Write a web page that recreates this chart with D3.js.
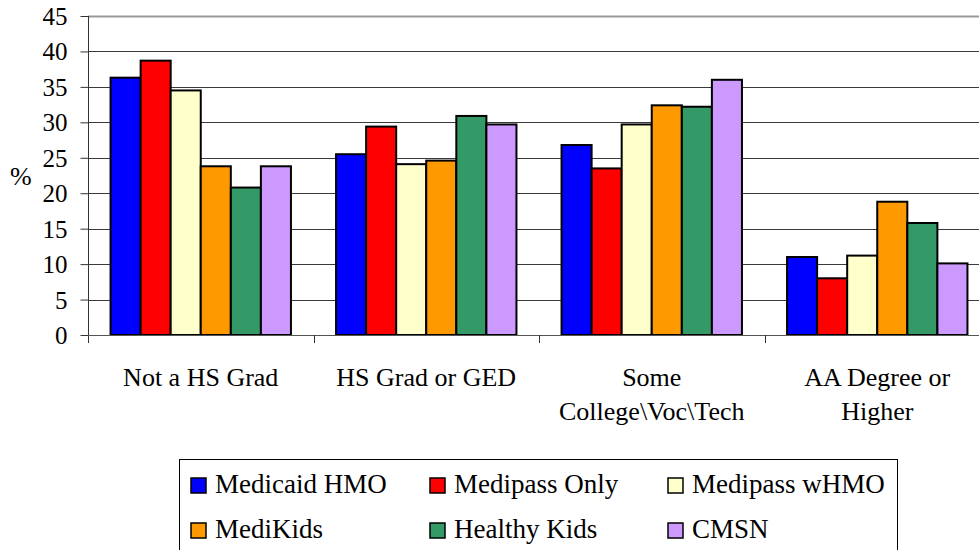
<!DOCTYPE html>
<html>
<head>
<meta charset="utf-8">
<script src="https://cdn.jsdelivr.net/npm/d3@7"></script>
<style>
  body { margin: 0; background: #fff; }
  svg text { font-family: "Times New Roman", "Liberation Serif", Tinos, Times, serif !important; fill: #000; }
</style>
</head>
<body>
<svg id="chart"></svg>
<script>
var categories = ["Not a HS Grad", "HS Grad or GED", "Some College\\Voc\\Tech", "AA Degree or Higher"]
var categoryLines = [["Not a HS Grad"], ["HS Grad or GED"], ["Some", "College\\Voc\\Tech"], ["AA Degree or", "Higher"]]
var seriesNames = ["Medicaid HMO", "Medipass Only", "Medipass wHMO", "MediKids", "Healthy Kids", "CMSN"]
var seriesColors = ["#0000ff", "#ff0000", "#ffffcc", "#ff9900", "#339966", "#cc99ff"]

var medicaidHMO = [36.3, 25.5, 26.8, 11.0]
var medipassOnly = [38.7, 29.4, 23.5, 8.0]
var medipassWHMO = [34.5, 24.1, 29.7, 11.2]
var mediKids = [23.8, 24.6, 32.4, 18.8]
var healthyKids = [20.8, 30.9, 32.2, 15.8]
var cmsn = [23.8, 29.7, 36.0, 10.1]

var yTicks = [0, 5, 10, 15, 20, 25, 30, 35, 40, 45]

var allSeries = [medicaidHMO, medipassOnly, medipassWHMO, mediKids, healthyKids, cmsn]

var dimensions = {
  width: 979,
  height: 550,
  margin: { top: 16, bottom: 215, left: 88, right: -11 }
}

var svg = d3.select("#chart")
  .attr("width", dimensions.width)
  .attr("height", dimensions.height)

var plotBottom = dimensions.height - dimensions.margin.bottom
var plotRight = dimensions.width - dimensions.margin.right

// scales
var x = d3.scaleBand()
  .domain(categories)
  .range([dimensions.margin.left, plotRight])
  .paddingInner(0.2)
  .paddingOuter(0.1)

var xSub = d3.scaleBand()
  .domain(seriesNames)
  .range([0, x.bandwidth()])

var y = d3.scaleLinear()
  .domain([0, 45])
  .range([plotBottom, dimensions.margin.top])

// gridlines
svg.append("g")
  .selectAll("line")
  .data(yTicks.slice(1))
  .enter().append("line")
    .attr("x1", dimensions.margin.left)
    .attr("x2", plotRight)
    .attr("y1", function(d) { return Math.round(y(d)) + 0.5 })
    .attr("y2", function(d) { return Math.round(y(d)) + 0.5 })
    .attr("stroke", function(d) { return d == 45 ? "#999" : "#3a3a3a" })
    .attr("stroke-width", function(d) { return d == 45 ? 2 : 1 })

// bars
svg.append("g")
  .selectAll("g")
  .data(categories)
  .enter().append("g")
    .attr("transform", function(d) { return "translate(" + x(d) + ",0)" })
  .selectAll("rect")
  .data(function(d, i) { return seriesNames.map(function(name, k) { return { key: name, value: allSeries[k][i], color: seriesColors[k] } }) })
  .enter().append("rect")
    .attr("x", function(d) { return xSub(d.key) })
    .attr("y", function(d) { return y(d.value) })
    .attr("width", xSub.bandwidth())
    .attr("height", function(d) { return plotBottom - y(d.value) })
    .attr("fill", function(d) { return d.color })
    .attr("stroke", "#000")
    .attr("stroke-width", 2)

// y axis
var yAxis = svg.append("g")
  .attr("transform", "translate(" + (dimensions.margin.left + 0.5) + ",0)")
  .call(d3.axisLeft(y).tickValues(yTicks).tickSize(8).tickPadding(13))
yAxis.attr("font-family", null)
yAxis.select(".domain").remove()
yAxis.selectAll("line").attr("stroke", "#333")
yAxis.selectAll("text").style("font-size", "25px").attr("dy", "0.34em")

svg.append("line")
  .attr("x1", dimensions.margin.left + 0.5).attr("x2", dimensions.margin.left + 0.5)
  .attr("y1", dimensions.margin.top).attr("y2", plotBottom + 8)
  .attr("stroke", "#333")

svg.append("line")
  .attr("x1", dimensions.margin.left).attr("x2", plotRight)
  .attr("y1", plotBottom + 0.5).attr("y2", plotBottom + 0.5)
  .attr("stroke", "#555")

// category ticks between groups
var step = x.step()
svg.append("g")
  .selectAll("line")
  .data(categories.slice(1))
  .enter().append("line")
    .attr("x1", function(d) { return Math.round(x(d) - step * 0.1) + 0.5 })
    .attr("x2", function(d) { return Math.round(x(d) - step * 0.1) + 0.5 })
    .attr("y1", plotBottom)
    .attr("y2", plotBottom + 8)
    .attr("stroke", "#333")

// category labels
var catLabels = svg.append("g")
  .selectAll("text")
  .data(categories)
  .enter().append("text")
    .attr("text-anchor", "middle")
    .style("font-size", "26px")
    .attr("x", function(d) { return x(d) + x.bandwidth() / 2 })
    .attr("y", 386)
catLabels.selectAll("tspan")
  .data(function(d, i) { return categoryLines[i] })
  .enter().append("tspan")
    .attr("x", function() { var p = d3.select(this.parentNode); return p.attr("x") })
    .attr("dy", function(d, i) { return i == 0 ? 0 : 34 })
    .text(function(d) { return d })

// y label
svg.append("text")
  .text("%")
  .attr("x", 10)
  .attr("y", 185)
  .style("font-size", "26px")

// legend
var legend = svg.append("g")
legend.append("rect")
  .attr("x", 179.5).attr("y", 459.5)
  .attr("width", 718).attr("height", 120)
  .attr("fill", "none").attr("stroke", "#000")

var legendCols = [191, 430, 668]
var legendRows = [493, 538]
var items = legend.selectAll("g")
  .data(seriesNames)
  .enter().append("g")
    .attr("transform", function(d, i) { return "translate(" + legendCols[i % 3] + "," + legendRows[Math.floor(i / 3)] + ")" })
items.append("rect")
  .attr("x", 0).attr("y", -15)
  .attr("width", 15).attr("height", 15)
  .attr("fill", function(d, i) { return seriesColors[i] })
  .attr("stroke", "#000").attr("stroke-width", 1.5)
items.append("text")
  .attr("x", 24).attr("y", 0)
  .style("font-size", "27px")
  .text(function(d) { return d })
</script>
</body>
</html>
